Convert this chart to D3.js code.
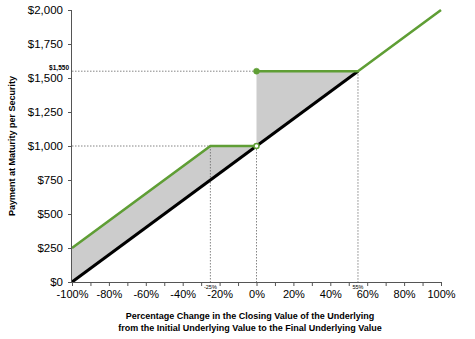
<!DOCTYPE html>
<html><head><meta charset="utf-8">
<script src="https://cdn.jsdelivr.net/npm/d3@7"></script>
<style>body{margin:0;background:#fff}svg{display:block}text{font-family:"Liberation Sans",Arial,sans-serif}</style>
</head><body>
<script>
const xTicks = [-100,-80,-60,-40,-20,0,20,40,60,80,100];
const yTicks = [0,250,500,750,1000,1250,1500,1750,2000];
const greenX = [-100,-25,0];
const greenY = [250,1000,1000];
const green2X = [0,55,100];
const green2Y = [1550,1550,2000];
const blackX = [-100,55];
const blackY = [0,1550];
const fill1X = [-100,-25,0];
const fill1Top = [250,1000,1000];
const fill1Bot = [0,750,1000];
const fill2X = [0,55];
const fill2Top = [1550,1550];
const fill2Bot = [1000,1550];
const markers = [{x:0,y:1000,open:true},{x:0,y:1550,open:false}];
const refLines = [{x:-25,y:1000,lab:"-25%"},{x:0,y:1000,lab:null},{x:55,y:1550,lab:"55%"}];

const W=475,H=339;
const svg=d3.select("body").append("svg").attr("width",W).attr("height",H);
const x=d3.scaleLinear().domain([-100,100]).range([72,441]);
const y=d3.scaleLinear().domain([0,2000]).range([282,10]);

// fills
const area=d3.area().x(d=>x(d[0])).y0(d=>y(d[2])).y1(d=>y(d[1]));
svg.append("path").datum(fill1X.map((v,i)=>[v,fill1Top[i],fill1Bot[i]])).attr("d",area).attr("fill","#cccccc");
svg.append("path").datum(fill2X.map((v,i)=>[v,fill2Top[i],fill2Bot[i]])).attr("d",area).attr("fill","#cccccc");

// reference dotted lines
const dash="1.5,1.5";
svg.append("line").attr("x1",x(-100)).attr("x2",x(-25)).attr("y1",y(1000)).attr("y2",y(1000)).attr("stroke","#666").attr("stroke-dasharray",dash).attr("stroke-width",0.8);
svg.append("line").attr("x1",x(-100)).attr("x2",x(55)).attr("y1",y(1550)).attr("y2",y(1550)).attr("stroke","#666").attr("stroke-dasharray",dash).attr("stroke-width",0.8);
refLines.forEach(r=>{
  svg.append("line").attr("x1",x(r.x)).attr("x2",x(r.x)).attr("y1",y(r.y)).attr("y2",y(0)).attr("stroke","#666").attr("stroke-dasharray",dash).attr("stroke-width",0.8);
});

// lines
const line=d3.line().x(d=>x(d[0])).y(d=>y(d[1]));
svg.append("path").datum(blackX.map((v,i)=>[v,blackY[i]])).attr("d",line).attr("fill","none").attr("stroke","#000").attr("stroke-width",3);
svg.append("path").datum(greenX.map((v,i)=>[v,greenY[i]])).attr("d",line).attr("fill","none").attr("stroke","#5f9e35").attr("stroke-width",2.6);
svg.append("path").datum(green2X.map((v,i)=>[v,green2Y[i]])).attr("d",line).attr("fill","none").attr("stroke","#5f9e35").attr("stroke-width",2.6);
markers.forEach(m=>{
  svg.append("circle").attr("cx",x(m.x)).attr("cy",y(m.y)).attr("r",m.open?2.5:3)
    .attr("fill",m.open?"#fff":"#5f9e35").attr("stroke","#5f9e35").attr("stroke-width",m.open?1.5:0.5);
});

// axes
const ya=svg.append("g").attr("transform",`translate(${x(-100)},0)`)
  .call(d3.axisLeft(y).tickValues(yTicks).tickSize(4).tickFormat(d=>"$"+d3.format(",")(d)));
ya.select(".domain").attr("stroke","#555").attr("d",`M-0.5,${y(0)}V${y(2000)}`);
ya.selectAll(".tick line").attr("stroke","#555");
ya.selectAll("text").attr("font-size",11.5).attr("fill","#000").attr("x",-9);

const minor=d3.range(-100,101,10);
const xa=svg.append("g").attr("transform",`translate(0,${y(0)})`)
  .call(d3.axisBottom(x).tickValues(minor).tickSize(4).tickFormat(d=>xTicks.includes(d)?d+"%":""));
xa.select(".domain").attr("stroke","#555").attr("d",`M${x(-100)},0.5H${x(100)}`);
xa.selectAll(".tick line").attr("stroke","#555");
xa.selectAll("text").attr("font-size",11).attr("fill","#000").attr("dy",0).attr("y",16);

refLines.forEach(r=>{
  if(r.lab) svg.append("text").attr("x",x(r.x)).attr("y",y(0)+6.5).attr("text-anchor","middle").attr("font-size",5.5).attr("fill","#000").text(r.lab);
});

svg.append("text").attr("x",x(-100)-3).attr("y",y(1550)-1).attr("text-anchor","end").attr("font-size",6.5).attr("font-weight","bold").text("$1,550");

// titles
svg.append("text").attr("transform",`translate(15,${y(1000)}) rotate(-90)`).attr("text-anchor","middle").attr("font-size",9).attr("font-weight","bold").text("Payment at Maturity per Security");
svg.append("text").attr("x",250).attr("y",319).attr("text-anchor","middle").attr("font-size",9).attr("font-weight","bold").text("Percentage Change in the Closing Value of the Underlying");
svg.append("text").attr("x",250).attr("y",331).attr("text-anchor","middle").attr("font-size",9).attr("font-weight","bold").text("from the Initial  Underlying Value to the Final Underlying Value");
</script>
</body></html>
